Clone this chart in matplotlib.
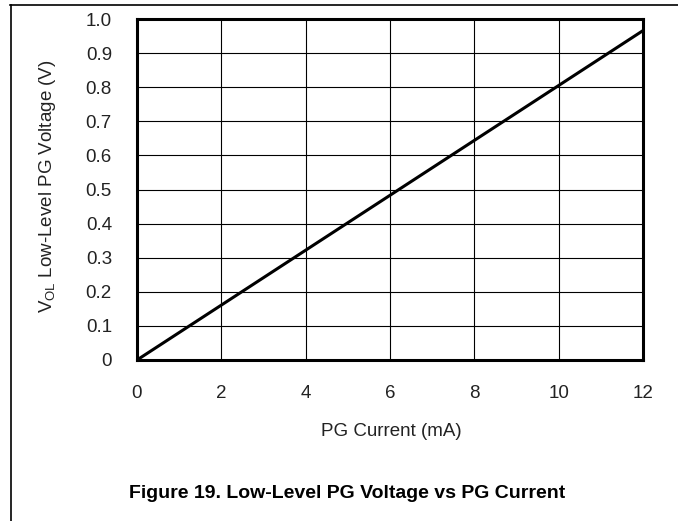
import matplotlib
matplotlib.use("Agg")
import matplotlib.pyplot as plt
from matplotlib.lines import Line2D

plt.rcParams['font.family'] = ['Liberation Sans', 'DejaVu Sans']
plt.rcParams['mathtext.fontset'] = 'custom'
plt.rcParams['mathtext.rm'] = 'Liberation Sans'
plt.rcParams['mathtext.it'] = 'Liberation Sans:italic'
plt.rcParams['mathtext.bf'] = 'Liberation Sans:bold'

current_ma = [0, 2, 4, 6, 8, 10, 12]
vol_v = [0.0, 0.161, 0.322, 0.483, 0.644, 0.805, 0.966]
x_ticks = [0, 2, 4, 6, 8, 10, 12]
y_ticks = [0, 0.1, 0.2, 0.3, 0.4, 0.5, 0.6, 0.7, 0.8, 0.9, 1.0]
y_tick_labels = ['0', '0.1', '0.2', '0.3', '0.4', '0.5', '0.6', '0.7', '0.8', '0.9', '1.0']
x_label = 'PG Current (mA)'
y_label = r'V$_{\mathrm{OL}}$ Low-Level PG Voltage (V)'
caption = 'Figure 19. Low-Level PG Voltage vs PG Current'

fig = plt.figure(figsize=(6.78, 5.21), dpi=100)
ax = fig.add_axes([137/678, 1 - 360/521, (643-137)/678, (360-19)/521])

ax.plot(current_ma, vol_v, color='black', linewidth=2.2, solid_capstyle='butt', clip_on=False, zorder=3)
ax.set_xlim(0, 12)
ax.set_ylim(0, 1.0)
ax.set_xticks(x_ticks)
ax.set_xticklabels([str(t) for t in x_ticks])
ax.set_yticks(y_ticks)
ax.set_yticklabels(y_tick_labels)
ax.grid(True, color='black', linewidth=0.8)
ax.tick_params(axis='both', length=0, labelsize=13.5, colors='#222222')
ax.tick_params(axis='x', pad=18)
ax.tick_params(axis='y', pad=18)
for s in ax.spines.values():
    s.set_linewidth(2.2)
    s.set_color('black')

fig.text(391/678, 1 - 431/521, x_label, ha='center', va='center', fontsize=13.5, color='#222222')
fig.text(47/678, 1 - 186/521, y_label, ha='center', va='center', rotation=90, fontsize=13.5, color='#222222')
fig.text(347/678, 1 - 493/521, caption, ha='center', va='center', fontsize=14, fontweight='bold', color='black')

fig.add_artist(Line2D([10.5/678, 10.5/678], [0, 1 - 5/521], transform=fig.transFigure, color='black', linewidth=1.2))
fig.add_artist(Line2D([10/678, 1.0], [1 - 5/521, 1 - 5/521], transform=fig.transFigure, color='black', linewidth=1.2))

fig.savefig('out.png', dpi=100)
